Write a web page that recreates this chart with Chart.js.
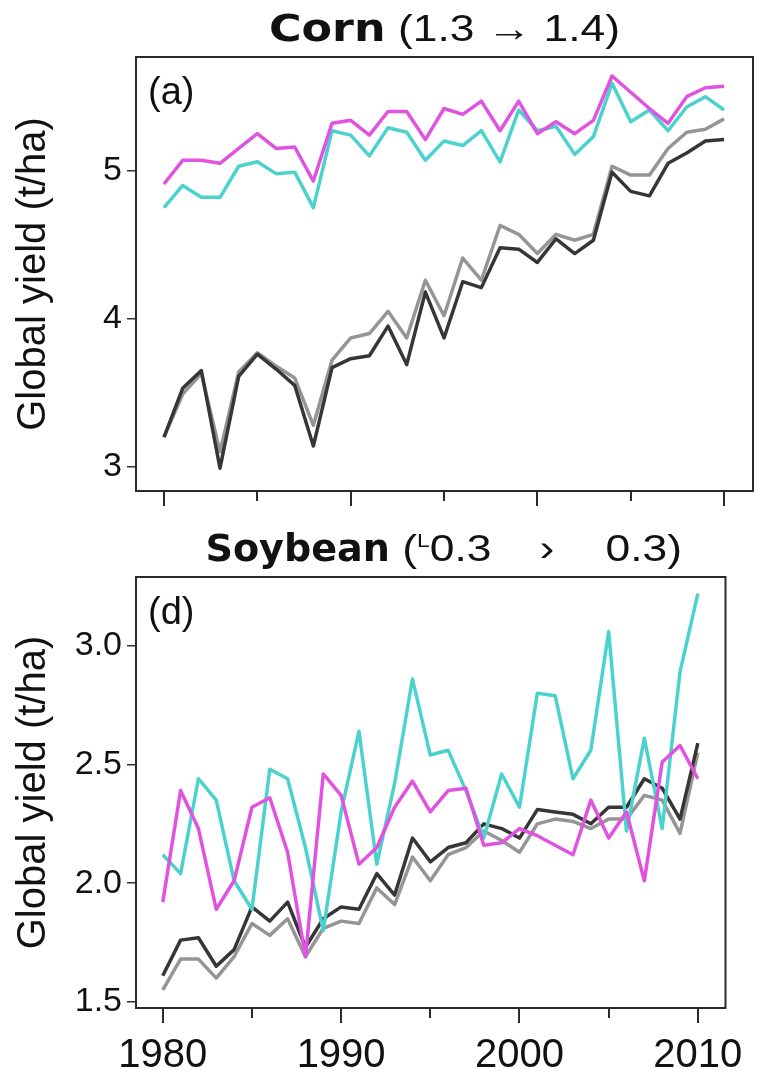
<!DOCTYPE html>
<html><head><meta charset="utf-8">
<script src="https://cdn.jsdelivr.net/npm/chart.js@4.4.1/dist/chart.umd.min.js"></script>
<style>
html,body{margin:0;padding:0;background:#fff;}
#wrap{position:relative;width:767px;height:1076px;overflow:hidden;background:#fff;}
canvas{position:absolute;left:0;}
#c1{top:0}
#c2{top:520px}
</style></head><body>
<div id="wrap"><canvas id="c1" width="767" height="520"></canvas><canvas id="c2" width="767" height="556"></canvas></div>
<script>
const years = [1980,1981,1982,1983,1984,1985,1986,1987,1988,1989,1990,1991,1992,1993,1994,1995,1996,1997,1998,1999,2000,2001,2002,2003,2004,2005,2006,2007,2008,2009,2010];

const cornMagenta = [4.91,5.07,5.07,5.05,5.15,5.25,5.15,5.16,4.93,5.32,5.34,5.24,5.40,5.40,5.21,5.42,5.38,5.47,5.27,5.47,5.25,5.33,5.25,5.34,5.64,5.53,5.42,5.32,5.50,5.56,5.57];
const cornCyan    = [4.75,4.90,4.82,4.82,5.03,5.06,4.98,4.99,4.75,5.27,5.24,5.10,5.29,5.26,5.07,5.20,5.17,5.27,5.06,5.41,5.27,5.30,5.11,5.23,5.59,5.33,5.41,5.27,5.43,5.50,5.41];
const cornDark    = [3.20,3.53,3.65,2.99,3.61,3.76,3.66,3.55,3.14,3.67,3.73,3.75,3.95,3.69,4.18,3.87,4.25,4.21,4.48,4.47,4.38,4.54,4.44,4.53,4.99,4.86,4.83,5.05,5.12,5.20,5.21];
const cornLight   = [3.20,3.49,3.63,3.10,3.64,3.77,3.68,3.60,3.28,3.72,3.87,3.90,4.05,3.87,4.26,4.02,4.41,4.26,4.63,4.57,4.44,4.57,4.53,4.57,5.03,4.97,4.97,5.15,5.26,5.28,5.35];

const soyMagenta = [1.92,2.39,2.23,1.89,2.01,2.32,2.36,2.13,1.69,2.46,2.37,2.08,2.15,2.32,2.43,2.30,2.39,2.40,2.16,2.17,2.23,2.20,2.16,2.12,2.35,2.19,2.30,2.01,2.51,2.58,2.44];
const soyCyan    = [2.12,2.04,2.44,2.35,2.01,1.89,2.48,2.44,2.15,1.80,2.30,2.64,2.08,2.42,2.86,2.54,2.56,2.39,2.19,2.46,2.32,2.80,2.79,2.44,2.56,3.06,2.22,2.61,2.23,2.89,3.22];
const soyDark    = [1.61,1.76,1.77,1.65,1.72,1.90,1.84,1.92,1.73,1.85,1.90,1.89,2.04,1.95,2.19,2.09,2.15,2.17,2.25,2.23,2.19,2.31,2.30,2.29,2.25,2.32,2.32,2.44,2.40,2.27,2.59];
const soyLight   = [1.55,1.68,1.68,1.60,1.69,1.83,1.78,1.85,1.69,1.81,1.84,1.83,1.98,1.91,2.11,2.01,2.12,2.15,2.22,2.18,2.13,2.25,2.27,2.26,2.23,2.27,2.27,2.37,2.35,2.21,2.55];

const xMajorTicks = [1980,1990,2000,2010];
const xMinorTicks = [1985,1995,2005];
const cornYTicks = [3,4,5];
const soyYTicks = [1.5,2.0,2.5,3.0];

const COLORS = {magenta:'#e052e0', cyan:'#4cd2cc', dark:'#363636', light:'#959595'};
const SANS = '"Liberation Sans", Arial, sans-serif';
const BOLD = 'bold 37px "DejaVu Sans", Verdana, sans-serif';
const REG = '37px ' + SANS;

function series(vals){ return years.map((y,i)=>({x:y, y:vals[i]})); }
function ds(label, vals, color){
  return {label, data: series(vals), borderColor: color, borderWidth: 3.5, pointRadius: 0, tension: 0, fill: false, borderJoinStyle:'round'};
}

const deco = {
  id: 'deco',
  afterDraw(chart, args, opts) {
    const ctx = chart.ctx, a = chart.chartArea, xs = chart.scales.x;
    ctx.save();
    ctx.strokeStyle = '#2a2a2a'; ctx.lineWidth = 2;
    ctx.strokeRect(a.left, a.top, a.right - a.left, a.bottom - a.top);
    ctx.beginPath();
    xMajorTicks.forEach(v => { const px = Math.round(xs.getPixelForValue(v)); ctx.moveTo(px, a.bottom); ctx.lineTo(px, a.bottom + 15); });
    xMinorTicks.forEach(v => { const px = Math.round(xs.getPixelForValue(v)); ctx.moveTo(px, a.bottom); ctx.lineTo(px, a.bottom + 10); });
    ctx.stroke();
    ctx.fillStyle = '#111';
    ctx.font = '38px ' + SANS;
    ctx.textAlign = 'left'; ctx.textBaseline = 'alphabetic';
    ctx.fillText(opts.label, a.left + 12, a.top + 47);
    // title: segments laid out left to right, centred over the plot
    const segs = opts.title;
    let total = 0;
    segs.forEach(s => { ctx.font = s.font; s.w = (ctx.measureText(s.text).width) * (s.sx || 1.2) + (s.gap || 0); total += s.w; });
    let x = (a.left + a.right) / 2 - total / 2 + (opts.dx || 0);
    segs.forEach(s => {
      ctx.save();
      ctx.font = s.font;
      ctx.translate(x + (s.gap || 0), opts.titleY + (s.dy || 0));
      ctx.scale(s.sx || 1.2, 1);
      ctx.fillText(s.text, 0, 0);
      ctx.restore();
      x += s.w;
    });
    ctx.restore();
  }
};

function makeChart(id, dsets, yMin, yMax, yTicks, yFmt, showX, deco_opts, xHeight) {
  return new Chart(document.getElementById(id), {
    type: 'line',
    data: { datasets: dsets },
    plugins: [deco],
    options: {
      responsive: false, animation: false, devicePixelRatio: 1,
      layout: { padding: { left: 0, right: 14, top: 57, bottom: 0 } },
      plugins: { legend: {display:false}, tooltip: {enabled:false}, title:{display:false}, deco: deco_opts },
      scales: {
        x: {
          type: 'linear', min: 1978.5, max: 2011.55,
          grid: { display: false, drawTicks: false },
          border: { display: false },
          ticks: { display: showX, autoSkip: false, maxRotation: 0, padding: 24, color: '#111', font: { size: 40, family: SANS }, callback: v => String(v) },
          afterBuildTicks: s => { s.ticks = xMajorTicks.map(v => ({value: v})); },
          afterFit: s => { s.height = xHeight; }
        },
        y: {
          min: yMin, max: yMax,
          grid: { display: true, drawOnChartArea: false, drawTicks: true, tickLength: 9, color: '#333', lineWidth: 1.5 },
          border: { display: false },
          ticks: { padding: 5, color: '#111', font: { size: 34, family: SANS }, callback: v => yFmt(v) },
          afterBuildTicks: s => { s.ticks = yTicks.map(v => ({value: v})); },
          afterFit: s => { s.width = 136; },
          title: { display: true, text: 'Global yield (t/ha)', color: '#111', font: { size: 40, family: SANS }, padding: { top: 10, bottom: 0 } }
        }
      }
    }
  });
}

makeChart('c1', [
  ds('magenta', cornMagenta, COLORS.magenta),
  ds('cyan', cornCyan, COLORS.cyan),
  ds('dark', cornDark, COLORS.dark),
  ds('light', cornLight, COLORS.light)
], 2.836, 5.768, cornYTicks, v => String(v), false, {
  label: '(a)', titleY: 41,
  title: [ {text:'Corn', font: BOLD, sx: 1.2}, {text:' (1.3 \u2192 1.4)', font: REG, sx: 1.2} ]
}, 29);

makeChart('c2', [
  ds('magenta', soyMagenta, COLORS.magenta),
  ds('cyan', soyCyan, COLORS.cyan),
  ds('dark', soyDark, COLORS.dark),
  ds('light', soyLight, COLORS.light)
], 1.474, 3.29, soyYTicks, v => v.toFixed(1), true, {
  label: '(d)', titleY: 41, dx: 13,
  title: [ {text:'Soybean', font: BOLD, sx: 1.03}, {text:' (', font: REG, sx: 1.2}, {text:'L', font: '19px ' + SANS, dy: -14, sx: 1.2}, {text:'0.3', font: REG, sx: 1.2}, {text:'\u203A', font: REG, gap: 48, sx: 1.2}, {text:' 0.3)', font: REG, gap: 39, sx: 1.2} ]
}, 68);
</script>
</body></html>
